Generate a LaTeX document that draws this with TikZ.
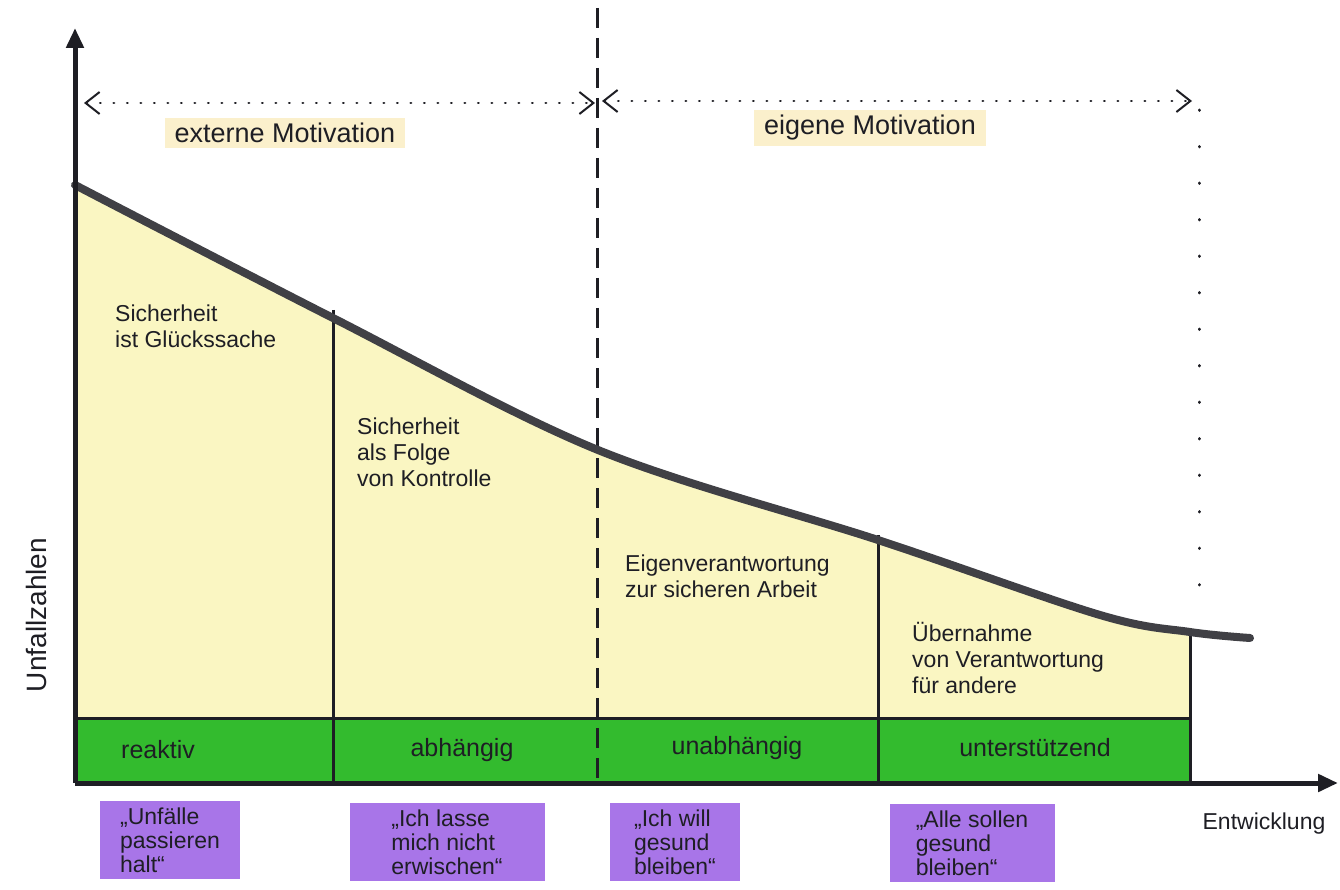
\documentclass[tikz,border=0pt]{standalone}
\usepackage{fontspec}
\setmainfont{Liberation Sans}
\usetikzlibrary{arrows.meta}
\definecolor{fillyellow}{HTML}{FAF6C2}
\definecolor{bandgreen}{HTML}{33BB2E}
\definecolor{hlpurple}{HTML}{A875E8}
\definecolor{hlbeige}{HTML}{FBF0CC}
\definecolor{ink}{HTML}{1E1E24}
\tikzset{
  axis/.style={ink, line width=5pt, -{Triangle[length=20pt,width=17pt]}},
  sep/.style={ink, line width=3pt},
  curve/.style={ink!85, line width=8pt, line cap=round},
  motarrow/.style={ink, line width=2.5pt, line cap=round, dash pattern=on 0.5pt off 13pt, {Straight Barb[length=14pt,width=22pt,line width=2pt]}-{Straight Barb[length=14pt,width=22pt,line width=2pt]}},
  lbl/.style={font=\fontsize{23}{26}\selectfont, text=ink, align=left, inner sep=0pt},
  band/.style={font=\fontsize{25}{28}\selectfont, text=ink, inner sep=0pt},
  quote/.style={font=\fontsize{23}{24}\selectfont, text=ink, align=left, fill=hlpurple, inner xsep=6pt, inner ysep=3pt, minimum height=78pt},
  mot/.style={font=\fontsize{27}{30}\selectfont, text=ink, fill=hlbeige, inner xsep=10pt, inner ysep=5pt}
}
\begin{document}
\begin{tikzpicture}[x=1pt,y=-1pt]
\useasboundingbox (0,0) rectangle (1340,890);
% key coordinates
\coordinate (O) at (75,783);
\coordinate (Ytop) at (75,28);
\coordinate (Xend) at (1338,783);
% yellow area
\begin{scope}
\clip (75,0) rectangle (1190,783);
\fill[fillyellow] plot[smooth,tension=0.55] coordinates {(75,185) (333,318) (598,450) (878,540) (1100,615) (1190,632) (1250,638)} -- (1250,783) -- (75,783) -- cycle;
\end{scope}
% green band
\fill[bandgreen] (75,718) rectangle (1190,783);
% separators
\coordinate (S1t) at (333,310); \coordinate (S1b) at (333,783);
\coordinate (S3t) at (878,535); \coordinate (S3b) at (878,783);
\coordinate (S4t) at (1190,628); \coordinate (S4b) at (1190,783);
\coordinate (Bl) at (75,718); \coordinate (Br) at (1190,718);
\draw[sep] (S1t) -- (S1b);
\draw[sep] (S3t) -- (S3b);
\draw[sep] (S4t) -- (S4b);
\draw[sep] (Bl) -- (Br);
% dashed middle line
\coordinate (Dt) at (597,8); \coordinate (Db) at (597,783);
\draw[ink, line width=3pt, dash pattern=on 20pt off 10pt] (Dt) -- (Db);
% curve
\draw[curve] plot[smooth,tension=0.55] coordinates {(75,185) (333,318) (598,450) (878,540) (1100,615) (1190,632) (1250,638)};
% axes
\draw[axis] (O) -- (Ytop);
\draw[axis] (O) -- (Xend);
% motivation arrows
\coordinate (M1l) at (84,103); \coordinate (M1r) at (595,103);
\coordinate (M2l) at (602,101); \coordinate (M2r) at (1192,101);
\draw[motarrow] (M1l) -- (M1r);
\draw[motarrow] (M2l) -- (M2r);
\coordinate (Rt) at (1199,110); \coordinate (Rb) at (1199,610);
\draw[ink, line width=3pt, line cap=round, dash pattern=on 0.5pt off 36pt] (Rt) -- (Rb);
\node[mot] (extm) at (285,133) {externe Motivation};
\node[mot] (eigm) at (870,128) {eigene Motivation};
% labels in areas
\node[lbl, anchor=north west] (l1) at (115,305) {Sicherheit\\ist Glückssache};
\node[lbl, anchor=north west] (l2) at (357,418) {Sicherheit\\als Folge\\von Kontrolle};
\node[lbl, anchor=north west] (l3) at (625,555) {Eigenverantwortung\\zur sicheren Arbeit};
\node[lbl, anchor=north west] (l4) at (912,622) {Übernahme\\von Verantwortung\\für andere};
% band labels
\node[band] (b1) at (158,750) {reaktiv};
\node[band] (b2) at (462,750) {abhängig};
\node[band] (b3) at (737,748) {unabhängig};
\node[band] (b4) at (1035,748) {unterstützend};
% quotes
\node[quote, minimum width=140pt] (q1) at (170,840) {„Unfälle\\passieren\\halt“};
\node[quote, minimum width=195pt] (q2) at (447,842) {„Ich lasse\\mich nicht\\erwischen“};
\node[quote, minimum width=130pt] (q3) at (675,842) {„Ich will\\gesund\\bleiben“};
\node[quote, minimum width=165pt] (q4) at (972,843) {„Alle sollen\\gesund\\bleiben“};
% axis labels
\node[band, anchor=center, font=\fontsize{23}{26}\selectfont] (xl) at (1264,824) {Entwicklung};
\node[band, rotate=90, anchor=center, font=\fontsize{28}{30}\selectfont] (yl) at (36,615) {Unfallzahlen};
\end{tikzpicture}
\end{document}
